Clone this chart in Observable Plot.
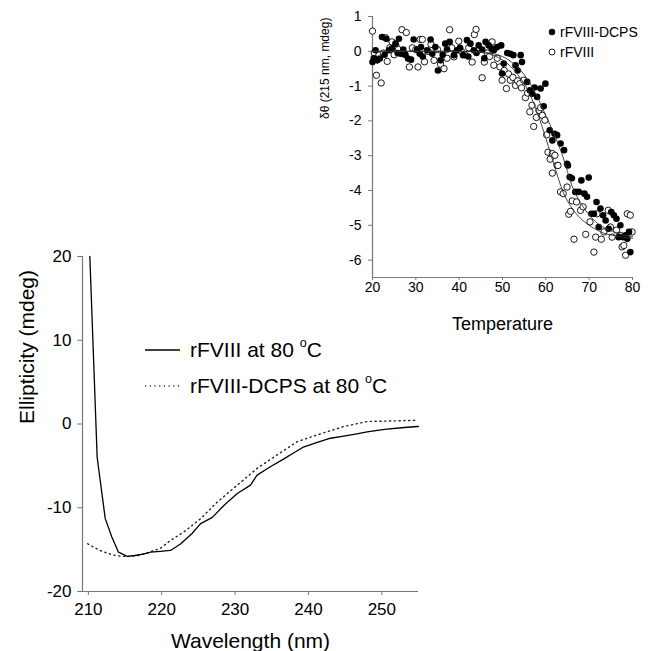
<!DOCTYPE html>
<html>
<head>
<meta charset="utf-8">
<script src="https://cdn.jsdelivr.net/npm/d3@7"></script>
<script src="https://cdn.jsdelivr.net/npm/@observablehq/plot@0.6"></script>
<style>
  html, body { margin: 0; padding: 0; background: white; }
  #wrap { position: relative; width: 657px; height: 651px; font-family: "Liberation Sans", Arial, sans-serif; color: #000; overflow: hidden; }
  #main, #inset { position: absolute; top: 0; }
  #main { left: 0; }
  #inset { left: 300px; }
  .leg { position: absolute; white-space: nowrap; display: flex; align-items: center; }
  .leg sup { font-size: 0.6em; position: relative; top: -0.15em; }
</style>
</head>
<body>
<div id="wrap">
  <div id="main"></div>
  <div id="inset"></div>
  <div class="leg" style="left:145px; top:337px; font-size:21px;">
    <svg width="36" height="26" style="margin-right:9px"><line x1="0" x2="35" y1="13" y2="13" stroke="#000" stroke-width="1.4"/></svg>
    <span>rFVIII at 80 <sup>o</sup>C</span>
  </div>
  <div class="leg" style="left:145px; top:373px; font-size:21px;">
    <svg width="36" height="26" style="margin-right:9px"><line x1="0" x2="35" y1="13" y2="13" stroke="#333" stroke-width="1.3" stroke-dasharray="1.2,3.5"/></svg>
    <span>rFVIII-DCPS at 80 <sup>o</sup>C</span>
  </div>
  <div class="leg" style="left:547px; top:23px; font-size:14px;">
    <svg width="10" height="18" style="margin-right:3px"><circle cx="5" cy="9" r="3.2" fill="#000"/></svg>
    <span>rFVIII-DCPS</span>
  </div>
  <div class="leg" style="left:547px; top:43px; font-size:14px;">
    <svg width="10" height="18" style="margin-right:3px"><circle cx="5" cy="9" r="3" fill="#fff" stroke="#000" stroke-width="0.9"/></svg>
    <span>rFVIII</span>
  </div>
</div>
<script>
// ---------- Main CD spectrum ----------
const wlTicks = [210, 220, 230, 240, 250];
const ellTicks = [-20, -10, 0, 10, 20];
const wlDomain = [209.2, 255];
const ellDomain = [-20, 20];

const wlSolid = [210.2, 211.2, 212.3, 213.2, 214.1, 215.3, 216.3, 217.5, 218.5, 219.8, 221.2, 222.6, 224.1, 225.3, 226.9, 228.5, 230.3, 232.1, 233.0, 234.8, 236.6, 237.9, 239.2, 241.2, 243.0, 244.8, 246.4, 248.0, 249.4, 250.7, 252.7, 254.8, 255.0];
const ellSolid = [20, -4.0, -11.3, -13.5, -15.3, -15.8, -15.7, -15.55, -15.3, -15.2, -15.1, -14.3, -13.1, -11.9, -11.15, -9.7, -8.3, -7.3, -6.1, -5.1, -4.2, -3.5, -2.8, -2.2, -1.7, -1.45, -1.2, -0.95, -0.75, -0.6, -0.45, -0.3, -0.3];

const wlDotted = [209.9, 210.7, 211.6, 212.5, 213.4, 214.5, 215.7, 216.8, 218.0, 219.8, 221.2, 223.0, 225.3, 227.6, 230.3, 233.0, 235.7, 238.5, 241.2, 243.0, 244.8, 246.4, 248.0, 250.7, 252.7, 254.8];
const ellDotted = [-14.3, -14.7, -15.1, -15.4, -15.65, -15.8, -15.8, -15.7, -15.4, -14.85, -13.9, -12.9, -11.3, -9.3, -7.3, -5.3, -3.7, -2.1, -1.3, -0.8, -0.3, 0.0, 0.3, 0.35, 0.4, 0.45];

// ---------- Inset thermal unfolding ----------
const tTicks = [20, 30, 40, 50, 60, 70, 80];
const dTicks = [-6, -5, -4, -3, -2, -1, 0, 1];
const tDomain = [20, 80];
const dDomain = [-6.5, 1];

const tDCPS = [20.0, 20.3, 20.7, 21.1, 21.7, 22.2, 22.8, 23.2, 23.8, 24.5, 25.3, 25.8, 26.1, 26.5, 27.1, 27.6, 28.2, 28.9, 29.5, 30.3, 30.9, 31.2, 31.6, 32.6, 33.4, 33.8, 34.5, 35.1, 35.7, 36.2, 36.8, 37.2, 37.8, 38.8, 39.5, 40.2, 40.9, 41.8, 42.1, 42.6, 43.4, 44.0, 44.5, 45.3, 45.8, 46.1, 46.8, 47.5, 48.0, 48.8, 49.7, 49.9, 50.3, 51.1, 51.8, 52.5, 53.0, 53.5, 54.2, 54.5, 55.7, 56.3, 56.8, 57.4, 58.0, 58.8, 59.5, 59.9, 60.9, 61.5, 62.0, 62.6, 63.4, 64.2, 64.9, 65.1, 65.5, 66.0, 66.8, 67.6, 68.2, 68.9, 69.5, 69.9, 70.5, 71.1, 71.7, 72.2, 72.6, 73.2, 73.8, 74.5, 75.1, 75.7, 76.3, 76.8, 77.2, 77.8, 78.4, 78.8, 79.2, 79.5];
const vDCPS = [-0.31, -0.20, 0.03, -0.26, -0.21, 0.41, -0.10, 0.36, 0.03, 0.08, 0.22, -0.05, 0.36, -0.07, 0.05, -0.10, -0.21, -0.24, 0.34, 0.05, -0.07, 0.12, -0.15, 0.03, 0.34, -0.07, 0.12, -0.55, -0.26, -0.10, 0.22, 0.05, 0.27, -0.11, 0.03, 0.10, -0.11, 0.32, -0.15, 0.22, 0.03, -0.05, 0.17, 0.05, -0.20, 0.27, 0.17, 0.08, 0.03, 0.12, 0.17, -0.64, -0.35, -0.05, -0.07, -0.11, -0.40, -0.55, -0.11, -0.31, -0.88, -1.12, -1.22, -1.04, -1.31, -1.07, -1.58, -0.93, -2.27, -2.56, -2.37, -2.41, -2.65, -2.84, -3.23, -3.28, -3.61, -3.65, -4.04, -4.04, -3.71, -4.09, -4.18, -3.63, -4.67, -4.67, -4.33, -5.05, -4.52, -4.71, -4.86, -5.10, -4.62, -4.71, -4.81, -5.34, -5.00, -5.34, -5.29, -5.39, -5.19, -5.77];

const tFVIII = [20.0, 20.4, 20.9, 21.5, 22.0, 22.5, 23.0, 23.4, 24.0, 24.5, 25.0, 25.4, 26.0, 26.8, 27.3, 27.8, 28.5, 29.2, 30.0, 30.5, 31.0, 31.5, 32.0, 32.8, 33.5, 34.2, 35.0, 35.7, 36.5, 37.2, 37.8, 38.3, 38.8, 39.9, 40.5, 41.3, 42.2, 43.0, 43.5, 43.9, 44.6, 45.3, 45.8, 46.5, 47.0, 47.6, 48.0, 48.8, 49.4, 49.9, 50.4, 50.9, 51.4, 51.8, 52.4, 53.0, 53.5, 54.0, 54.4, 54.9, 55.3, 55.8, 56.3, 56.8, 57.2, 57.8, 58.4, 58.8, 59.2, 59.8, 60.2, 60.5, 61.0, 61.5, 61.5, 62.1, 62.6, 62.8, 63.4, 64.0, 64.9, 65.3, 65.7, 66.1, 66.5, 67.1, 68.0, 68.6, 69.2, 70.2, 71.1, 71.5, 71.8, 72.8, 73.4, 74.4, 74.9, 75.3, 76.3, 77.2, 77.6, 78.0, 78.4, 78.8, 79.5, 79.9];
const vFVIII = [0.58, -0.05, -0.69, -0.10, -0.91, -0.05, 0.39, -0.29, 0.10, 0.27, -0.10, 0.17, 0.05, 0.62, -0.08, 0.54, -0.45, 0.10, 0.05, -0.45, 0.34, 0.34, -0.30, 0.00, 0.20, -0.26, 0.05, -0.37, -0.50, -0.20, 0.62, 0.10, -0.16, 0.29, 0.00, -0.10, 0.10, -0.31, 0.48, 0.63, 0.05, -0.76, -0.31, -0.05, -0.15, 0.27, -0.40, -0.20, -0.45, -0.83, -0.55, -1.07, -0.65, -0.83, -0.75, -0.98, -0.85, -0.93, -1.05, -0.83, -1.33, -1.20, -1.74, -1.55, -2.16, -1.90, -1.70, -1.62, -1.84, -1.98, -2.40, -2.90, -3.10, -2.94, -3.50, -2.99, -3.28, -3.28, -4.04, -4.09, -3.90, -4.68, -4.60, -4.30, -5.40, -4.33, -4.57, -4.47, -5.26, -4.90, -5.77, -5.34, -4.67, -5.40, -5.19, -4.57, -5.05, -5.34, -5.14, -5.29, -5.62, -5.58, -5.86, -4.67, -4.71, -5.19];

const tFitFVIII = [20, 30, 40, 45, 48, 50, 52, 54, 56, 58, 60, 62, 64, 66, 68, 70, 72, 74, 76, 78, 80];
const vFitFVIII = [0, 0, 0, -0.03, -0.12, -0.25, -0.45, -0.75, -1.15, -1.75, -2.5, -3.3, -4.05, -4.5, -4.8, -5.0, -5.15, -5.25, -5.3, -5.35, -5.37];
const tFitDCPS = [20, 30, 40, 45, 50, 52, 54, 56, 58, 60, 62, 64, 66, 68, 70, 72, 74, 76, 78, 80];
const vFitDCPS = [0, 0, 0, -0.02, -0.15, -0.3, -0.52, -0.85, -1.3, -1.85, -2.4, -3.05, -3.85, -4.35, -4.7, -4.95, -5.1, -5.2, -5.28, -5.32];

const zip = (xs, ys) => xs.map((x, i) => ({x, y: ys[i]}));
const plain = d => String(d);

const font = "Liberation Sans, Arial, sans-serif";
const axisGray = "#777";

const main = Plot.plot({
  width: 657,
  height: 651,
  marginLeft: 82,
  marginRight: 239,
  marginTop: 256,
  marginBottom: 60,
  style: {fontFamily: font, background: "transparent", color: "black"},
  x: {domain: wlDomain},
  y: {domain: ellDomain},
  marks: [
    Plot.ruleX([wlDomain[0]], {stroke: axisGray, strokeWidth: 1.2}),
    Plot.ruleY([ellDomain[0]], {stroke: axisGray, strokeWidth: 1.2}),
    Plot.axisX({ticks: wlTicks, tickFormat: plain, tickSize: 4, tickPadding: 7, stroke: axisGray, fill: "black", fontSize: 17, label: null}),
    Plot.axisY({ticks: ellTicks, tickFormat: plain, tickSize: 5, tickPadding: 6, stroke: axisGray, fill: "black", fontSize: 17, label: null}),
    Plot.line(zip(wlDotted, ellDotted), {x: "x", y: "y", stroke: "#222", strokeWidth: 1.4, strokeDasharray: "1.2,3.6", strokeLinecap: "round"}),
    Plot.line(zip(wlSolid, ellSolid), {x: "x", y: "y", stroke: "#000", strokeWidth: 1.3}),
    Plot.text(["Wavelength (nm)"], {frameAnchor: "bottom", dy: 56, lineAnchor: "bottom", fontSize: 21, fill: "black"}),
    Plot.text(["Ellipticity (mdeg)"], {frameAnchor: "left", dx: -55, rotate: -90, fontSize: 21, fill: "black"})
  ]
});
document.getElementById("main").appendChild(main);

const inset = Plot.plot({
  width: 357,
  height: 340,
  marginLeft: 72,
  marginRight: 25,
  marginTop: 16,
  marginBottom: 63,
  style: {fontFamily: font, background: "transparent", color: "black"},
  x: {domain: tDomain},
  y: {domain: dDomain},
  marks: [
    Plot.ruleX([tDomain[0]], {stroke: axisGray, strokeWidth: 1.2}),
    Plot.ruleY([dDomain[0]], {stroke: axisGray, strokeWidth: 1.2}),
    Plot.axisX({ticks: tTicks, tickFormat: plain, tickSize: 3, tickPadding: 2, stroke: axisGray, fill: "black", fontSize: 14, label: null}),
    Plot.axisY({ticks: dTicks, tickFormat: plain, tickSize: 4, tickPadding: 7, stroke: axisGray, fill: "black", fontSize: 14, label: null}),
    Plot.dot(zip(tFVIII, vFVIII), {x: "x", y: "y", r: 3.2, fill: "white", stroke: "black", strokeWidth: 0.9}),
    Plot.dot(zip(tDCPS, vDCPS), {x: "x", y: "y", r: 3.3, fill: "black", stroke: "none"}),
    Plot.line(zip(tFitFVIII, vFitFVIII), {x: "x", y: "y", stroke: "#333", strokeWidth: 0.9, curve: "monotone-x"}),
    Plot.line(zip(tFitDCPS, vFitDCPS), {x: "x", y: "y", stroke: "#333", strokeWidth: 0.9, curve: "monotone-x"}),
    Plot.text(["Temperature"], {frameAnchor: "bottom", dy: 52, lineAnchor: "bottom", fontSize: 18, fill: "black"}),
    Plot.text(["δθ (215 nm, mdeg)"], {frameAnchor: "left", dx: -47, dy: -28, rotate: -90, fontSize: 12, fill: "black"})
  ]
});
document.getElementById("inset").appendChild(inset);
</script>
</body>
</html>
